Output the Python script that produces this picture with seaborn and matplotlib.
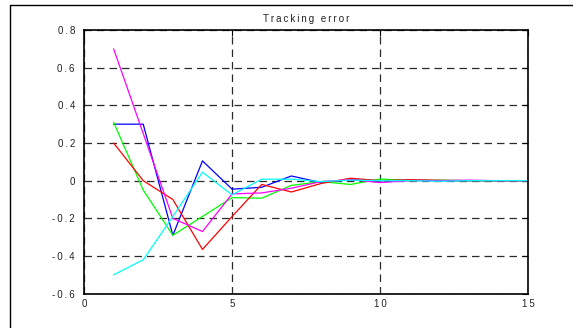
import matplotlib
matplotlib.use("Agg")
import matplotlib.pyplot as plt
import seaborn as sns
import pandas as pd
from matplotlib.lines import Line2D

# Tracking error per iteration for five runs
steps = list(range(1, 16))
err_blue = [0.30, 0.30, -0.29, 0.105, -0.045, -0.035, 0.025, -0.01, 0.005, 0.0, 0.003, 0.0, 0.0, 0.0, 0.0]
err_green = [0.31, -0.05, -0.29, -0.19, -0.09, -0.093, -0.025, -0.005, -0.02, 0.009, 0.0, 0.003, 0.0, 0.0, 0.0]
err_red = [0.20, 0.00, -0.10, -0.365, -0.19, -0.02, -0.06, -0.015, 0.013, 0.0, 0.005, 0.002, 0.0, 0.0, 0.0]
err_magenta = [0.70, 0.25, -0.20, -0.27, -0.07, -0.065, -0.04, -0.005, 0.005, -0.01, 0.0, 0.0, 0.003, 0.0, 0.0]
err_cyan = [-0.50, -0.42, -0.19, 0.045, -0.075, 0.008, 0.008, -0.005, 0.003, 0.0, 0.0, -0.003, 0.0, 0.0, 0.0]

x_ticks = [0, 5, 10, 15]
y_ticks = [-0.6, -0.4, -0.2, 0, 0.2, 0.4, 0.6, 0.8]
x_tick_labels = ["0", "5", "10", "15"]
y_tick_labels = ["-0.6", "-0.4", "-0.2", "0", "0.2", "0.4", "0.6", "0.8"]
title = "Tracking error"

series = {
    "b": err_blue,
    "g": err_green,
    "r": err_red,
    "m": err_magenta,
    "c": err_cyan,
}
colors = {"b": "#0000ff", "g": "#00ff00", "r": "#ff0000", "m": "#ff00ff", "c": "#00ffff"}

df = pd.concat(
    [pd.DataFrame({"step": steps, "error": v, "run": k}) for k, v in series.items()],
    ignore_index=True,
)


def spaced(s):
    # widen the letter spacing with thin spaces
    return "\u2009".join(s)


sns.set_style("white")
plt.rcParams["font.family"] = ["Liberation Sans", "DejaVu Sans"]

fig = plt.figure(figsize=(5.73, 3.28), dpi=100)
W, H = 573, 328
ax = fig.add_axes([84 / W, (H - 293.7) / H, (528.3 - 84) / W, (293.7 - 30) / H])

sns.lineplot(data=df, x="step", y="error", hue="run", palette=colors,
             hue_order=list(series.keys()), ax=ax, legend=False,
             linewidth=0.9, estimator=None, sort=False)

ax.set_xlim(0, 15)
ax.set_ylim(-0.6, 0.8)
ax.set_xticks(x_ticks)
ax.set_yticks(y_ticks)
ax.set_xticklabels([spaced(t) for t in x_tick_labels])
ax.set_yticklabels([spaced(t) for t in y_tick_labels])
ax.set_xlabel("")
ax.set_ylabel("")
ax.set_title(spaced(title), fontsize=7, pad=6, color="#222222")
ax.grid(True, color="#2a2a2a", linestyle=(0, (6, 4)), linewidth=0.9)
ax.set_axisbelow(True)
ax.tick_params(direction="in", length=4, width=0.8, labelsize=7,
               top=True, right=True, colors="black", labelcolor="#222222")
ax.tick_params(axis="y", pad=6.5)
ax.tick_params(axis="x", pad=4)
for s in ax.spines.values():
    s.set_color("black")
    s.set_linewidth(1.2)
    s.set_visible(True)

# outer figure frame (left and top edges)
fig.add_artist(Line2D([10 / W, 10 / W], [0, (H - 5) / H], color="black", linewidth=1.0,
                      transform=fig.transFigure))
fig.add_artist(Line2D([10 / W, 1.0], [(H - 5) / H, (H - 5) / H], color="black", linewidth=1.0,
                      transform=fig.transFigure))

fig.savefig("out.png", dpi=100)
